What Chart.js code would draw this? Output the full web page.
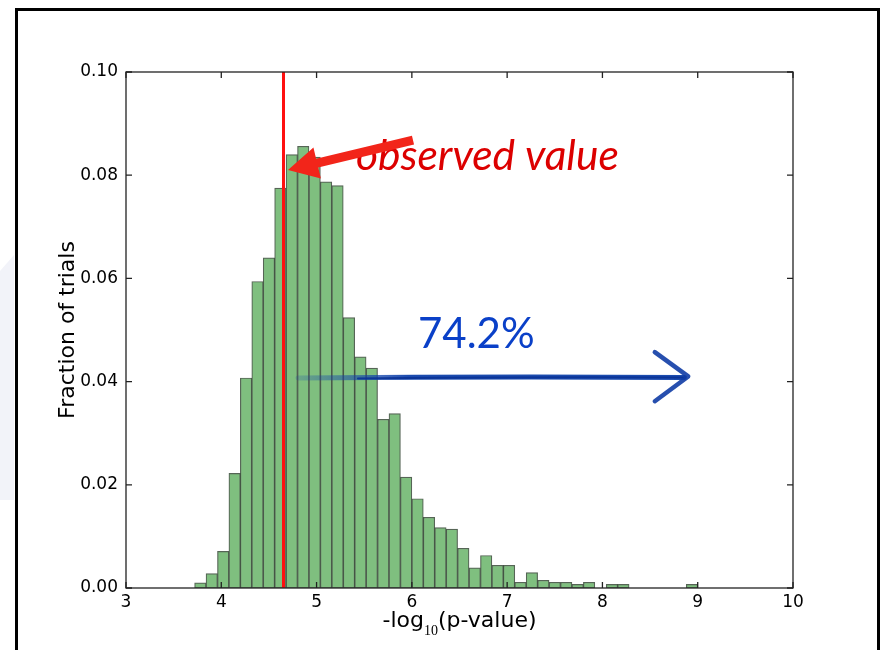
<!DOCTYPE html>
<html>
<head>
<meta charset="utf-8">
<script src="https://cdn.jsdelivr.net/npm/chart.js@4.4.0/dist/chart.umd.min.js"></script>
<style>
  html, body { margin: 0; padding: 0; background: #fff; }
  body { width: 883px; height: 650px; position: relative; overflow: hidden; }
  #slide-edge {
    position: absolute; left: 0; top: 255px; width: 14px; height: 245px;
    background: #f2f3f9;
    clip-path: polygon(0 16px, 100% 0, 100% 100%, 0 100%);
  }
  #frame {
    position: absolute; left: 15px; top: 8px; width: 865px; height: 700px;
    border: 3px solid #000; box-sizing: border-box;
  }
  #hist { position: absolute; left: 0; top: 0; }
</style>
</head>
<body>
<div id="slide-edge"></div>
<div id="frame"></div>
<canvas id="hist" width="883" height="650"></canvas>
<script>
// histogram bins (left edges) and the fraction of trials in each
const binLeft = [
  3.72, 3.84, 3.96, 4.08, 4.20, 4.32, 4.44, 4.56, 4.68, 4.80, 4.92,
  5.04, 5.16, 5.28, 5.40, 5.52, 5.64, 5.76, 5.88, 6.00, 6.12, 6.24,
  6.36, 6.48, 6.60, 6.72, 6.84, 6.96, 7.08, 7.20, 7.32, 7.44, 7.56,
  7.68, 7.80, 7.92, 8.04, 8.16, 8.28, 8.40, 8.52, 8.64, 8.76, 8.88,
];
const binWidth = 0.12;
const fractions = [
  0.0010, 0.0028, 0.0071, 0.0222, 0.0407, 0.0594, 0.0640, 0.0775, 0.0840, 0.0856, 0.0835,
  0.0787, 0.0780, 0.0524, 0.0448, 0.0426, 0.0327, 0.0338, 0.0215, 0.0173, 0.0137, 0.0117,
  0.0114, 0.0077, 0.0039, 0.0063, 0.0044, 0.0044, 0.0011, 0.0030, 0.0015, 0.0011, 0.0011,
  0.0007, 0.0011, 0.0000, 0.0007, 0.0007, 0.0000, 0.0000, 0.0000, 0.0000, 0.0000, 0.0007,
];
const xTicks = [3, 4, 5, 6, 7, 8, 9, 10];
const yTicks = [0, 0.02, 0.04, 0.06, 0.08, 0.1];
const observedValue = 4.65;
const tailShare = "74.2%";

(() => {
  const tickLen = 6;

  const axesFrame = {
    id: "axesFrame",
    afterDatasetsDraw: (chart) => {
      const { ctx, chartArea, scales } = chart;
      const { left, right, top, bottom } = chartArea;

      ctx.save();
      // observed value marker
      const xObs = Math.round(scales.x.getPixelForValue(observedValue)) + 0.5;
      ctx.beginPath();
      ctx.moveTo(xObs, top);
      ctx.lineTo(xObs, bottom);
      ctx.lineWidth = 3;
      ctx.strokeStyle = "#ff1010";
      ctx.stroke();

      // box + inward ticks, matplotlib style
      ctx.strokeStyle = "#222";
      ctx.lineWidth = 1.3;
      ctx.strokeRect(left, top, right - left, bottom - top);
      ctx.beginPath();
      xTicks.forEach((v) => {
        const px = scales.x.getPixelForValue(v);
        ctx.moveTo(px, bottom);
        ctx.lineTo(px, bottom - tickLen);
        ctx.moveTo(px, top);
        ctx.lineTo(px, top + tickLen);
      });
      yTicks.forEach((v) => {
        const py = scales.y.getPixelForValue(v);
        ctx.moveTo(left, py);
        ctx.lineTo(left + tickLen, py);
        ctx.moveTo(right, py);
        ctx.lineTo(right - tickLen, py);
      });
      ctx.stroke();
      ctx.restore();
    },
  };

  const notes = {
    id: "notes",
    afterDraw: (chart) => {
      const { ctx, chartArea, scales } = chart;
      const px = (x, y) => [scales.x.getPixelForValue(x), scales.y.getPixelForValue(y)];

      ctx.save();

      // x axis label with subscript
      const mainFont = '22px "DejaVu Sans"';
      const subFont = '14px "Liberation Serif"';
      ctx.font = mainFont;
      const w1 = ctx.measureText("-log").width;
      const w3 = ctx.measureText("(p-value)").width;
      ctx.font = subFont;
      const w2 = ctx.measureText("10").width;
      let lx = (chartArea.left + chartArea.right) / 2 - (w1 + w2 + w3) / 2;
      const ly = 627;
      ctx.fillStyle = "#000";
      ctx.textBaseline = "alphabetic";
      ctx.textAlign = "left";
      ctx.font = mainFont;
      ctx.fillText("-log", lx, ly);
      lx += w1;
      ctx.font = subFont;
      ctx.fillText("10", lx, ly + 8);
      lx += w2;
      ctx.font = mainFont;
      ctx.fillText("(p-value)", lx, ly);

      // "observed value" label
      const [ox, oy] = px(5.414, 0.0810);
      ctx.font = 'italic 42.5px Lato';
      ctx.fillStyle = "#dc0000";
      ctx.fillText("observed value", ox, oy);

      // red arrow pointing at the observed line
      const [tx, ty] = px(6.012, 0.0868);
      const [hx, hy] = px(4.70, 0.0810);
      const len = Math.hypot(tx - hx, ty - hy);
      const ux = (tx - hx) / len;
      const uy = (ty - hy) / len;
      const nx = -uy;
      const ny = ux;
      const headLen = 30;
      const headHalf = 16;
      const shaftHalf = 4.5;
      const bx = hx + ux * headLen;
      const by = hy + uy * headLen;
      ctx.beginPath();
      ctx.moveTo(hx, hy);
      ctx.lineTo(bx + nx * headHalf, by + ny * headHalf);
      ctx.lineTo(bx + nx * shaftHalf, by + ny * shaftHalf);
      ctx.lineTo(tx + nx * shaftHalf, ty + ny * shaftHalf);
      ctx.lineTo(tx - nx * shaftHalf, ty - ny * shaftHalf);
      ctx.lineTo(bx - nx * shaftHalf, by - ny * shaftHalf);
      ctx.lineTo(bx - nx * headHalf, by - ny * headHalf);
      ctx.closePath();
      ctx.fillStyle = "#f2251a";
      ctx.fill();

      // share of trials beyond the observed value
      const [sx, sy] = px(6.064, 0.0465);
      ctx.font = '42px Lato';
      ctx.fillStyle = "#0a40c8";
      ctx.fillText(tailShare, sx, sy);

      // hand drawn blue arrow
      const [ax0, ay0] = px(4.805, 0.0407);
      const [ax1, ay1] = px(8.86, 0.0408);
      const grad = ctx.createLinearGradient(ax0, 0, ax0 + 110, 0);
      grad.addColorStop(0, "rgba(20,70,170,0.2)");
      grad.addColorStop(1, "rgba(15,65,170,0.95)");
      ctx.lineCap = "round";
      ctx.lineJoin = "round";
      ctx.strokeStyle = grad;
      ctx.lineWidth = 5;
      ctx.beginPath();
      ctx.moveTo(ax0, ay0);
      ctx.quadraticCurveTo((ax0 + ax1) / 2, ay0 - 1.5, ax1, ay1);
      ctx.stroke();
      ctx.lineWidth = 2;
      ctx.strokeStyle = "rgba(10,50,150,0.9)";
      ctx.beginPath();
      ctx.moveTo(ax0 + 60, ay0 + 0.5);
      ctx.quadraticCurveTo((ax0 + ax1) / 2, ay0 - 1, ax1, ay1);
      ctx.stroke();

      const [c0x, c0y] = px(8.55, 0.0457);
      const [c1x, c1y] = px(8.90, 0.0410);
      const [c2x, c2y] = px(8.55, 0.0362);
      ctx.strokeStyle = "rgba(15,60,165,0.9)";
      ctx.lineWidth = 4.5;
      ctx.beginPath();
      ctx.moveTo(c0x, c0y);
      ctx.lineTo(c1x, c1y);
      ctx.lineTo(c2x, c2y);
      ctx.stroke();

      ctx.restore();
    },
  };

  const ctx = document.getElementById("hist");
  const data = {
    datasets: [
      {
        data: binLeft.map((x, i) => ({ x: x + binWidth / 2, y: fractions[i] })),
        backgroundColor: "#7fbf7f",
        borderColor: "rgba(30,50,30,0.75)",
        borderWidth: 1.2,
        borderSkipped: false,
        barPercentage: 1,
        categoryPercentage: 1,
      },
    ],
  };
  const config = {
    type: "bar",
    data: data,
    plugins: [axesFrame, notes],
    options: {
      responsive: false,
      animation: false,
      layout: {
        padding: { left: 0, right: 90, top: 72, bottom: 0 },
      },
      plugins: {
        legend: { display: false },
        tooltip: { enabled: false },
      },
      scales: {
        x: {
          type: "linear",
          min: 3,
          max: 10,
          offset: false,
          border: { display: false },
          grid: { display: false, offset: false, drawTicks: false },
          afterBuildTicks: (scale) => {
            scale.ticks = xTicks.map((v) => ({ value: v }));
          },
          afterFit: (scale) => {
            scale.height = 62;
          },
          ticks: {
            color: "#000",
            padding: 4,
            maxRotation: 0,
            font: { family: "DejaVu Sans", size: 17 },
          },
        },
        y: {
          min: 0,
          max: 0.1,
          border: { display: false },
          grid: { display: false, drawTicks: false },
          afterBuildTicks: (scale) => {
            scale.ticks = yTicks.map((v) => ({ value: v }));
          },
          afterFit: (scale) => {
            scale.width = 126;
          },
          ticks: {
            color: "#000",
            padding: 8,
            font: { family: "DejaVu Sans", size: 17 },
            callback: (v) => Number(v).toFixed(2),
          },
          title: {
            display: true,
            text: "Fraction of trials",
            color: "#000",
            padding: { top: 55, bottom: 0 },
            font: { family: "DejaVu Sans", size: 22, weight: "normal" },
          },
        },
      },
    },
  };

  new Chart(ctx, config);
})();
</script>
</body>
</html>
